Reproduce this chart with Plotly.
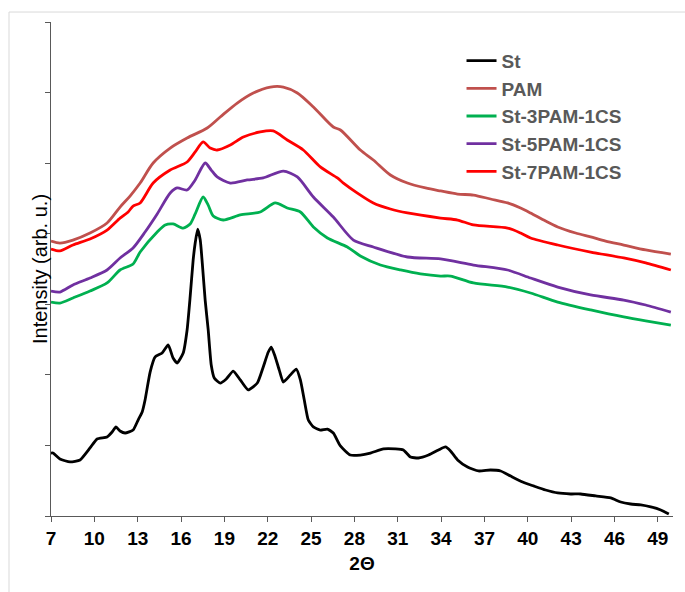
import plotly.graph_objects as go

# ---------------- data (2-theta, intensity in arbitrary units) ----------------
st_x = [7.0, 7.14, 7.62, 8.32, 9.01, 9.70, 10.19, 10.88, 11.23, 11.5, 11.78, 12.13, 12.68, 13.03,
        13.31, 13.51, 13.86, 14.21, 14.69, 15.11, 15.45, 15.73, 16.15, 16.42, 16.63, 16.84, 16.98,
        17.15, 17.33, 17.47, 17.67, 17.88, 18.09, 18.30, 18.71, 19.13, 19.61, 20.10, 20.65, 21.28,
        21.69, 22.04, 22.25, 22.52, 22.80, 23.08, 23.56, 23.98, 24.26, 24.53, 24.81, 25.16, 25.64,
        26.13, 26.54, 27.03, 27.72, 28.41, 29.11, 30.01, 30.84, 31.39, 31.88, 32.43, 33.13, 33.82,
        34.30, 34.65, 35.14, 35.83, 36.59, 37.42, 38.12, 38.81, 39.64, 40.40, 41.23, 42.07, 42.97,
        43.66, 44.70, 45.74, 46.43, 47.12, 47.82, 48.51, 49.20, 49.76]
st_y = [446, 446, 404, 383, 397, 482, 546, 560, 595, 631, 602, 588, 609, 680,
        737, 822, 1020, 1127, 1155, 1212, 1119, 1084, 1155, 1318, 1552, 1814, 1934,
        2033, 1955, 1793, 1530, 1318, 1070, 978, 942, 971, 1027, 964, 893, 942,
        1056, 1162, 1197, 1127, 1034, 949, 999, 1041, 964, 822, 680, 631, 609,
        616, 588, 496, 432, 432, 446, 475, 475, 468, 418, 411, 432, 468,
        489, 461, 397, 347, 319, 326, 319, 283, 241, 213, 184, 163, 156,
        156, 142, 128, 99, 85, 78, 64, 43, 14]

pam_x = [7.0, 7.62, 8.52, 9.70, 10.88, 11.78, 12.47, 13.17, 14.07, 15.25, 16.42, 17.81, 18.71,
         19.89, 21.0, 22.18, 23.08, 24.05, 25.16, 26.54, 27.03, 28.41, 29.31, 30.49, 31.67, 32.92,
         33.96, 35.14, 36.24, 37.42, 38.60, 39.50, 40.19, 41.23, 42.07, 43.31, 44.35, 45.39, 46.64,
         48.16, 49.90]
pam_y = [1948, 1934, 1955, 2005, 2076, 2189, 2267, 2359, 2501, 2607, 2678, 2749, 2827,
         2926, 2997, 3039, 3039, 2997, 2898, 2756, 2735, 2593, 2522, 2416, 2359, 2324,
         2303, 2281, 2274, 2246, 2218, 2182, 2147, 2090, 2048, 2005, 1977, 1948, 1920,
         1885, 1856]

p3_x = [7.0, 7.62, 8.52, 9.70, 10.88, 11.78, 12.68, 13.17, 14.35, 14.90, 15.45, 16.15, 16.63,
        16.98, 17.53, 17.88, 18.23, 18.92, 20.10, 21.48, 22.52, 23.35, 24.26, 25.16, 26.13, 27.51,
        28.41, 29.80, 31.19, 32.57, 33.96, 34.65, 36.24, 38.60, 40.19, 42.07, 44.35, 46.64, 48.16,
        49.90]
p3_y = [1516, 1509, 1545, 1594, 1651, 1743, 1785, 1870, 2012, 2062, 2069, 2040, 2069,
        2140, 2260, 2203, 2126, 2097, 2133, 2154, 2218, 2182, 2154, 2048, 1970, 1906,
        1842, 1778, 1743, 1715, 1700, 1700, 1651, 1622, 1580, 1516, 1460, 1410, 1382,
        1353]

p5_x = [7.0, 7.62, 8.52, 9.70, 10.88, 11.78, 12.68, 13.51, 14.35, 15.25, 15.73, 16.42, 16.98,
        17.67, 18.09, 18.50, 19.41, 20.58, 21.69, 23.08, 24.05, 25.16, 26.54, 27.93, 29.31, 31.67,
        33.96, 36.24, 38.60, 40.19, 42.07, 44.35, 46.64, 48.16, 49.90]
p5_y = [1594, 1587, 1637, 1686, 1743, 1828, 1899, 2012, 2140, 2288, 2324, 2310, 2381,
        2501, 2451, 2402, 2359, 2381, 2395, 2444, 2402, 2260, 2118, 1955, 1906, 1835,
        1821, 1778, 1743, 1686, 1622, 1566, 1530, 1495, 1445]

p7_x = [7.0, 7.62, 8.52, 9.70, 10.88, 11.78, 12.34, 12.68, 13.17, 14.07, 15.25, 16.42, 16.98,
        17.53, 18.02, 18.50, 19.41, 20.31, 21.48, 22.38, 23.35, 24.46, 25.64, 26.82, 27.24, 28.21,
        29.31, 30.49, 31.67, 33.96, 35.14, 36.24, 38.60, 39.50, 40.19, 42.07, 44.35, 46.64, 48.16,
        49.90]
p7_y = [1892, 1878, 1920, 1963, 2026, 2111, 2154, 2196, 2218, 2359, 2451, 2508, 2579,
        2650, 2607, 2593, 2629, 2685, 2721, 2728, 2664, 2593, 2473, 2395, 2359, 2288,
        2218, 2175, 2147, 2111, 2097, 2062, 2040, 2005, 1970, 1920, 1870, 1828, 1793,
        1743]

x_ticks = [7, 10, 13, 16, 19, 22, 25, 28, 31, 34, 37, 40, 43, 46, 49]
y_ticks = [0, 500, 1000, 1500, 2000, 2500, 3000, 3500]

series = [
    ("St", st_x, st_y, "#000000", 0.5),
    ("PAM", pam_x, pam_y, "#C0504D", 0.8),
    ("St-3PAM-1CS", p3_x, p3_y, "#00B050", 0.7),
    ("St-5PAM-1CS", p5_x, p5_y, "#7030A0", 0.7),
    ("St-7PAM-1CS", p7_x, p7_y, "#FF0000", 0.7),
]

FONT = "Liberation Sans, Arial, sans-serif"

fig = go.Figure()
for name, xs, ys, col, sm in series:
    fig.add_trace(go.Scatter(x=xs, y=ys, mode="lines", name=name,
                             line=dict(color=col, width=2.8, shape="spline", smoothing=sm)))

fig.update_layout(
    width=685, height=592,
    margin=dict(l=51, r=12, t=22, b=76),
    paper_bgcolor="white", plot_bgcolor="white",
    showlegend=True,
    legend=dict(x=0.66, y=0.96, xanchor="left", yanchor="top",
                bgcolor="rgba(0,0,0,0)",
                font=dict(family=FONT, size=19, color="#595959", weight="bold"),
                tracegroupgap=0),
    shapes=[dict(type="rect", xref="paper", yref="paper",
                 x0=-0.0675, x1=1.05, y0=-0.2, y1=1.0202,
                 line=dict(color="#D9D9D9", width=1), fillcolor="rgba(0,0,0,0)", layer="below")],
    annotations=[dict(text="Intensity (arb. u.)", xref="paper", yref="paper",
                      x=-0.0177, y=0.5, xanchor="center", yanchor="middle",
                      textangle=-90, showarrow=False,
                      font=dict(family=FONT, size=20, color="#000000"))],
)

fig.update_xaxes(
    range=[7, 50.05], tickmode="array", tickvals=x_ticks,
    ticktext=[str(v) for v in x_ticks],
    showgrid=False, zeroline=False, showline=True, linecolor="#595959", linewidth=1,
    ticks="outside", ticklen=5, tickcolor="#595959",
    tickfont=dict(family=FONT, size=19, color="#000000", weight="bold"),
    title=dict(text="2Θ", font=dict(family=FONT, size=19, color="#000000", weight="bold"), standoff=8),
)
fig.update_yaxes(
    range=[0, 3500], tickmode="array", tickvals=y_ticks, showticklabels=False,
    showgrid=False, zeroline=False, showline=True, linecolor="#595959", linewidth=1,
    ticks="outside", ticklen=5, tickcolor="#595959",
)

fig.write_html("out.html")
